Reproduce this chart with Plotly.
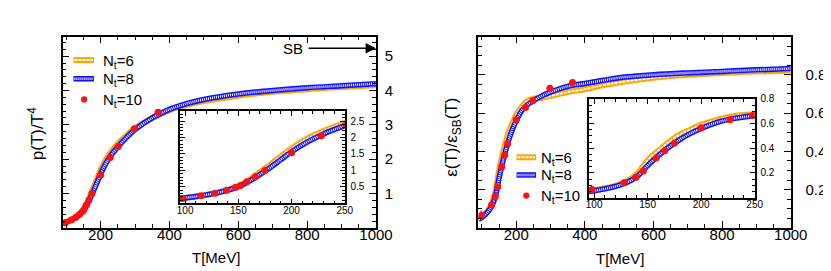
import plotly.graph_objects as go

# ---------------- data ----------------
T_curve = [90, 95, 100, 110, 120, 130, 140, 150, 160, 170, 180, 190, 200, 215, 230, 250,
           275, 300, 350, 400, 450, 500, 600, 700, 800, 900, 1000]

p_nt6 = [0.13, 0.15, 0.17, 0.21, 0.26, 0.32, 0.40, 0.52, 0.71, 0.94, 1.18, 1.43, 1.67, 1.97, 2.20, 2.44,
         2.69, 2.90, 3.20, 3.43, 3.58, 3.69, 3.85, 3.96, 4.04, 4.10, 4.15]
p_nt8 = [0.13, 0.15, 0.17, 0.21, 0.26, 0.32, 0.40, 0.51, 0.67, 0.87, 1.09, 1.33, 1.57, 1.87, 2.11, 2.36,
         2.63, 2.86, 3.20, 3.45, 3.62, 3.74, 3.90, 4.00, 4.08, 4.14, 4.20]

T_p10 = [98, 115, 128, 139, 147, 152, 158, 166, 175, 200, 228, 251, 298, 367]
p_nt10 = [0.15, 0.23, 0.31, 0.40, 0.48, 0.54, 0.66, 0.81, 1.00, 1.54, 2.05, 2.37, 2.89, 3.37]

e_nt6 = [0.05, 0.055, 0.06, 0.075, 0.095, 0.13, 0.19, 0.30, 0.38, 0.45, 0.51, 0.55, 0.59, 0.63, 0.66, 0.675,
         0.68, 0.69, 0.71, 0.725, 0.745, 0.76, 0.785, 0.80, 0.81, 0.817, 0.823]
e_nt8 = [0.045, 0.05, 0.055, 0.07, 0.09, 0.12, 0.17, 0.26, 0.34, 0.41, 0.47, 0.52, 0.56, 0.61, 0.64, 0.665,
         0.69, 0.71, 0.74, 0.755, 0.77, 0.785, 0.80, 0.81, 0.818, 0.826, 0.833]

T_e10 = [98, 128, 139, 146, 158, 166, 175, 200, 227, 248, 298, 364]
e_nt10 = [0.065, 0.12, 0.165, 0.215, 0.32, 0.38, 0.44, 0.565, 0.63, 0.665, 0.73, 0.76]
e_nt10_err = [0.025, 0, 0, 0, 0, 0, 0, 0, 0, 0, 0, 0]

main_xticks = [200, 400, 600, 800, 1000]
p_yticks = [1, 2, 3, 4, 5]
e_yticks = [0.2, 0.4, 0.6, 0.8]
inset_xticks = [100, 150, 200, 250]
p_inset_yticks = [0.5, 1, 1.5, 2, 2.5]
e_inset_yticks = [0.2, 0.4, 0.6, 0.8]

# ---------------- style ----------------
W, H = 831, 271
ORANGE = "#FFA500"
BLUE = "#1010FF"
RED = "#FF1010"
FONT = "Liberation Sans"

def px(x0, x1):
    return [x0 / W, x1 / W]

def py(top, bottom):
    return [1 - bottom / H, 1 - top / H]

fig = go.Figure()

def add_bands(xa, ya, T, y6, y8):
    fig.add_trace(go.Scatter(x=T, y=y6, mode="lines", line=dict(color=ORANGE, width=6, shape="spline"),
                             xaxis=xa, yaxis=ya, showlegend=False, hoverinfo="skip"))
    fig.add_trace(go.Scatter(x=T, y=y6, mode="lines", line=dict(color="white", width=2, dash="3px,1px", shape="spline"),
                             xaxis=xa, yaxis=ya, showlegend=False, hoverinfo="skip"))
    fig.add_trace(go.Scatter(x=T, y=y8, mode="lines", line=dict(color=BLUE, width=5.5, shape="spline"),
                             xaxis=xa, yaxis=ya, showlegend=False, hoverinfo="skip"))
    fig.add_trace(go.Scatter(x=T, y=y8, mode="lines", line=dict(color="white", width=2.5, dash="1px,1px", shape="spline"),
                             xaxis=xa, yaxis=ya, showlegend=False, hoverinfo="skip"))

def add_points(xa, ya, T, y, err=None):
    kw = {}
    if err is not None:
        kw["error_y"] = dict(type="data", array=err, color=RED, thickness=1.5, width=0)
    fig.add_trace(go.Scatter(x=T, y=y, mode="markers", marker=dict(color=RED, size=7),
                             xaxis=xa, yaxis=ya, showlegend=False, hoverinfo="skip", **kw))

# left main (x, y), left inset (x3, y3), right main (x2, y2), right inset (x4, y4)
add_bands("x", "y", T_curve, p_nt6, p_nt8)
add_points("x", "y", T_p10, p_nt10)
add_bands("x2", "y2", T_curve, e_nt6, e_nt8)
add_points("x2", "y2", T_e10, e_nt10, e_nt10_err)
add_bands("x3", "y3", T_curve, p_nt6, p_nt8)
add_points("x3", "y3", T_p10, p_nt10)
add_bands("x4", "y4", T_curve, e_nt6, e_nt8)
add_points("x4", "y4", T_e10, e_nt10)

def xax(domain, anchor, rng, ticks, minor_d, fs, standoff, tl, mtl):
    return dict(domain=domain, anchor=anchor, range=rng, tickvals=ticks, ticktext=[str(t) for t in ticks],
                ticks="inside", ticklen=tl, tickwidth=1.3, tickcolor="black",
                minor=dict(dtick=minor_d, tick0=0, ticks="inside", ticklen=mtl, tickwidth=1, tickcolor="black"),
                showline=True, linecolor="black", linewidth=1.5, mirror="allticks",
                showgrid=False, zeroline=False, tickfont=dict(family=FONT, size=fs, color="black"),
                ticklabelstandoff=standoff, fixedrange=True)

def yax(domain, anchor, rng, ticks, minor_d, fs, standoff, tl, mtl):
    d = xax(domain, anchor, rng, ticks, minor_d, fs, standoff, tl, mtl)
    d["side"] = "right"
    d["ticktext"] = [("%g" % t) for t in ticks]
    return d

L_x = px(53, 374)
R_x = px(479, 799)
M_y = py(24, 219)
LI_x = px(173, 342)
LI_y = py(100, 194)
RI_x = px(592, 762)
RI_y = py(87.5, 188)

fig.update_layout(
    width=W, height=H, margin=dict(l=0, r=0, t=0, b=0),
    paper_bgcolor="white", plot_bgcolor="white", showlegend=False,
    xaxis=xax(L_x, "y", [90, 1000], main_xticks, 50, 15, -8, 7, 4),
    yaxis=yax(M_y, "x", [0, 5.57], p_yticks, 0.2, 15, 4, 7, 4),
    xaxis2=xax(R_x, "y2", [90, 1000], main_xticks, 50, 15, -8, 7, 4),
    yaxis2=yax(M_y, "x2", [0, 1.0], e_yticks, 0.05, 15, 10, 7, 4),
    xaxis3=xax(LI_x, "y3", [95, 250], inset_xticks, 10, 10, -3, 5, 3),
    yaxis3=yax(LI_y, "x3", [0, 2.8], p_inset_yticks, 0.1, 10, 2, 5, 3),
    xaxis4=xax(RI_x, "y4", [95, 250], inset_xticks, 10, 10, -3, 5, 3),
    yaxis4=yax(RI_y, "x4", [0, 0.8], e_inset_yticks, 0.05, 10, 2, 5, 3),
)

ann = []
tf = dict(family=FONT, size=15, color="black")
ann.append(dict(text="T[MeV]", x=210 / W, y=1 - 249 / H, xref="paper", yref="paper", showarrow=False,
                font=tf, xanchor="center", yanchor="middle"))
ann.append(dict(text="T[MeV]", x=624 / W, y=1 - 250 / H, xref="paper", yref="paper", showarrow=False,
                font=tf, xanchor="center", yanchor="middle"))
ann.append(dict(text="p(T)/T<sup>4</sup>", x=25 / W, y=1 - 123 / H, xref="paper", yref="paper", showarrow=False,
                font=dict(family=FONT, size=17, color="black"), textangle=-90, xanchor="center", yanchor="middle"))
ann.append(dict(text="ε(T)/ε<sub>SB</sub>(T)", x=453 / W, y=1 - 127 / H, xref="paper", yref="paper", showarrow=False,
                font=dict(family=FONT, size=17, color="black"), textangle=-90, xanchor="center", yanchor="middle"))
# SB arrow
ann.append(dict(text="", x=1000, y=5.23, ax=800, ay=5.23, xref="x", yref="y", axref="x", ayref="y",
                showarrow=True, arrowhead=2, arrowsize=1.3, arrowwidth=1.6, arrowcolor="black"))
ann.append(dict(text="SB", x=800, y=5.23, xref="x", yref="y", showarrow=False, font=tf,
                xanchor="right", yanchor="middle", xshift=-2))

shapes = []

def legend(x0, x1, ys, xtext, dotx):
    y6, y8, y10 = ys
    for (y, col, w, dash, ww) in [(y6, ORANGE, 6, "3px,1px", 2), (y8, BLUE, 5.5, "1px,1px", 2.5)]:
        shapes.append(dict(type="line", xref="paper", yref="paper", x0=x0 / W, x1=x1 / W,
                           y0=1 - y / H, y1=1 - y / H, line=dict(color=col, width=w)))
        shapes.append(dict(type="line", xref="paper", yref="paper", x0=(x0 + 1) / W, x1=(x1 - 1) / W,
                           y0=1 - y / H, y1=1 - y / H, line=dict(color="white", width=ww, dash=dash)))
    r = 3.2
    shapes.append(dict(type="circle", xref="paper", yref="paper", x0=(dotx - r) / W, x1=(dotx + r) / W,
                       y0=1 - (y10 + r) / H, y1=1 - (y10 - r) / H, fillcolor=RED, line=dict(width=0)))
    for y, lab in [(y6, "6"), (y8, "8"), (y10, "10")]:
        ann.append(dict(text="N<sub>t</sub>=" + lab, x=xtext / W, y=1 - y / H, xref="paper", yref="paper",
                        showarrow=False, font=dict(family=FONT, size=15, color="black"),
                        xanchor="left", yanchor="middle", yshift=-1))

legend(64, 85, (48, 67, 88), 92, 75)
legend(518, 538, (147, 165, 186), 541, 528)

fig.update_layout(annotations=ann, shapes=shapes)
fig.write_html("out.html")
